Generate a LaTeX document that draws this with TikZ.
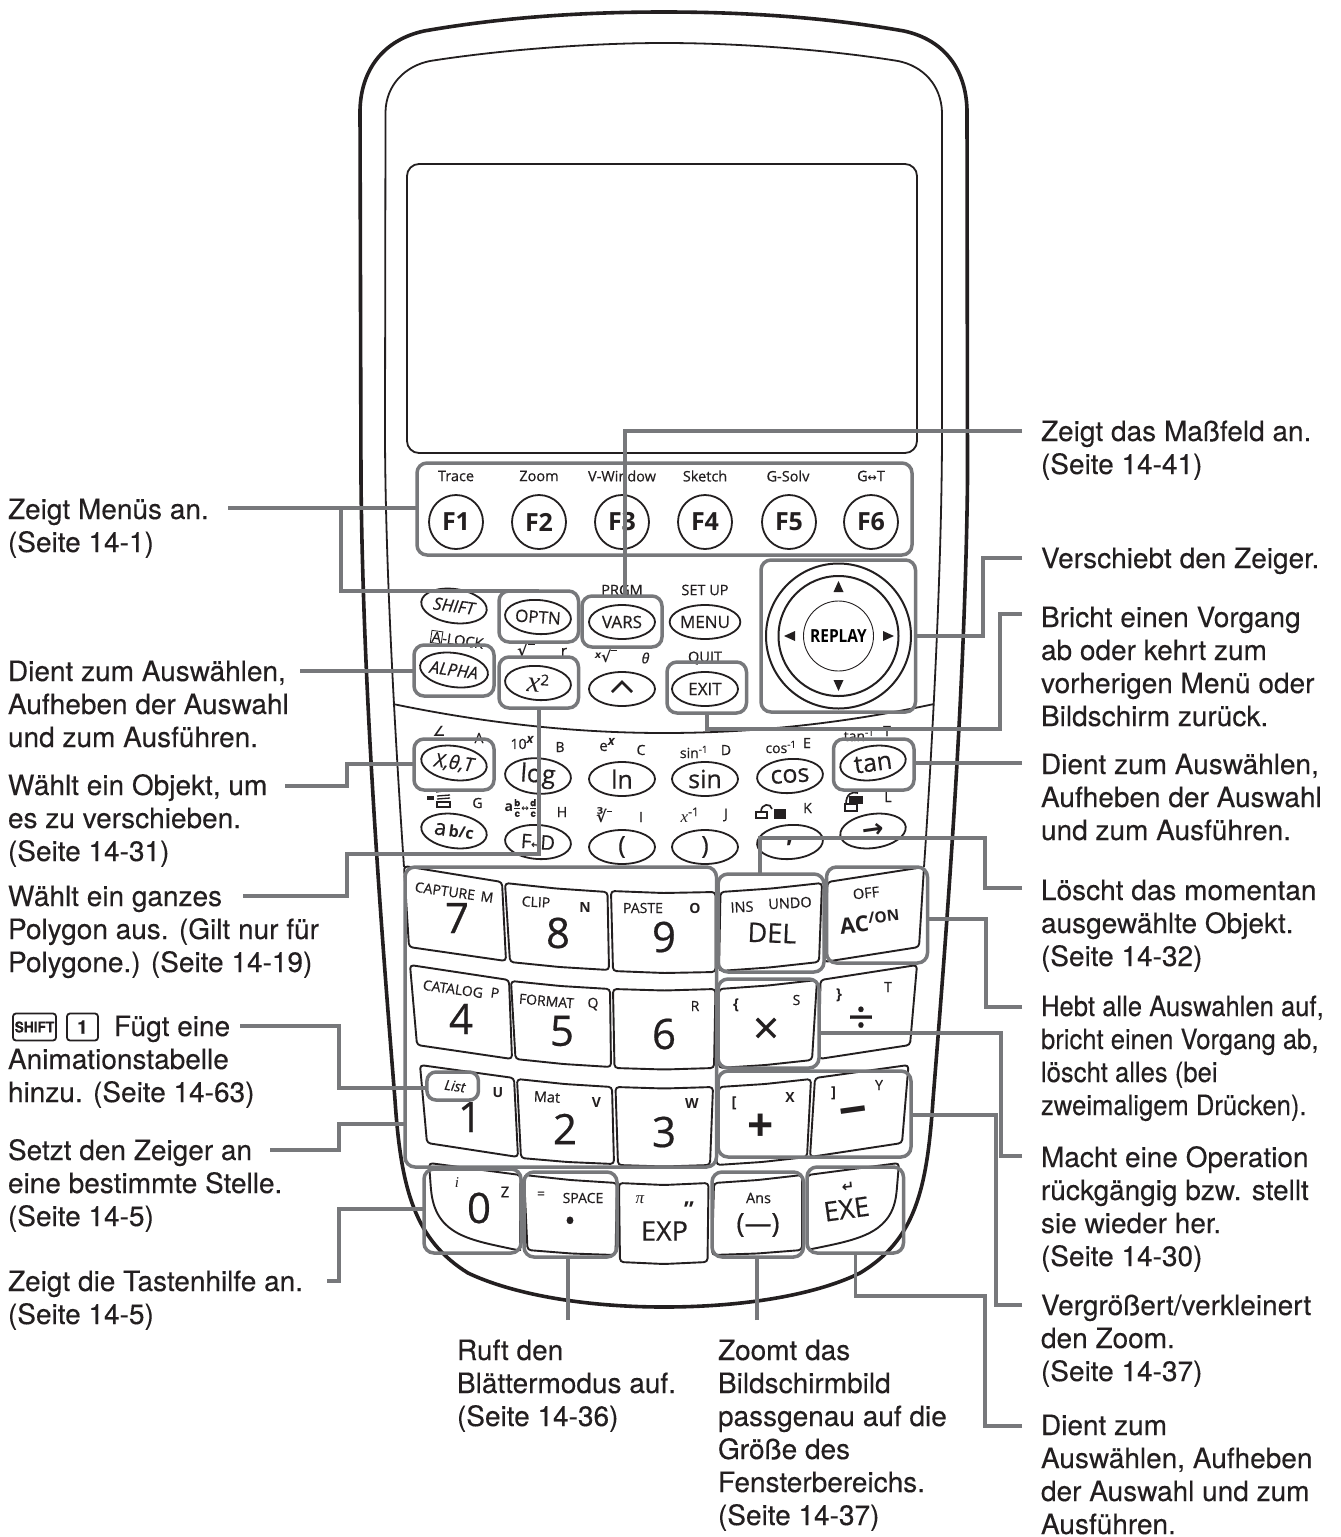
\documentclass[tikz,border=0pt]{standalone}
\usepackage{fontspec}
\usepackage{amsmath}
\usetikzlibrary{shapes.geometric}
\setmainfont[FakeBold=0.2]{TeX Gyre Heros}
\newfontfamily\kf[UprightFeatures={FakeBold=0.5},ItalicFeatures={FakeBold=0.5}]{Open Sans}
\newfontfamily\kfc[FakeStretch=0.86]{Open Sans}
\newfontfamily\djf{DejaVu Sans}
\newfontfamily\serf{Liberation Serif}
\newfontfamily\narrowf[FakeStretch=0.915,FakeBold=0.2]{TeX Gyre Heros}
\definecolor{hlgray}{HTML}{77787B}
\definecolor{ink}{HTML}{231F20}
\newcount\ktc
\tikzset{
  x=1pt,y=-1pt,
  bodyl/.style={draw=ink,line width=3.6pt},
  innerl/.style={draw=ink,line width=1.8pt},
  keyl/.style={draw=ink,line width=1.9pt,rounded corners=3.5pt,line join=round},
  hl/.style={draw=hlgray,line width=3.5pt,rounded corners=10pt,inner sep=0pt,outer sep=0pt},
  conn/.style={draw=hlgray,line width=3.5pt,line cap=butt,line join=miter},
  oval/.style={ellipse,draw=ink,line width=1.8pt,inner sep=0pt,outer sep=0pt,minimum width=66pt,minimum height=34pt,text=ink},
  fcirc/.style={circle,draw=ink,line width=1.8pt,inner sep=0pt,outer sep=0pt,minimum size=54pt,text=ink},
  kt/.style={inner sep=0pt,outer sep=0pt,text=ink},
  lab/.style={inner sep=0pt,outer sep=0pt,anchor=north west,align=left,text=ink,font=\fontsize{28}{33}\selectfont},
  labn/.style={lab,font=\narrowf\fontsize{28}{33}\selectfont},
  capkey/.style={draw=ink,line width=1.8pt,rounded corners=3pt,inner sep=0pt,outer sep=0pt,text=ink},
}
% x y size rotation text
\newcommand\keytxt[5]{\global\advance\ktc by 1
  \node[kt,rotate=#4] (kt\the\ktc) at (#1,#2) {\kf\fontsize{#3}{#3}\selectfont #5};}
% name x y rotation size text
\newcommand\ovalkey[6]{\node[oval,rotate=#4] (#1) at (#2,#3) {\kf\fontsize{#5}{#5}\selectfont #6};}
% name x0 y0 x1 y1
\newcommand\frm[5]{\node[hl,minimum width={#4-#2},minimum height={#5-#3}] (#1) at ({(#2+#4)/2},{(#3+#5)/2}) {};}
% TLx TLy TRx TRy BRx BRy BLx BLy sag
\newcommand\keyq[9]{\draw[keyl] (#1,#2) -- ({(#1+#3)/2},{(#2+#4)/2+#9}) -- (#3,#4) -- (#5,#6) -- ({(#5+#7)/2},{(#6+#8)/2+#9}) -- (#7,#8) -- cycle;}
% name x baseline style text
\newcommand\calloutlab[5]{\node[#4] (#1) at (#2,#3-24) {\rule{0pt}{24pt}#5};}
\begin{document}
\begin{tikzpicture}
\useasboundingbox (0,0) rectangle (1341,1537);
\fill[white] (0,0) rectangle (1341,1537);

% ---- body ----
\draw[bodyl] (664,12) .. controls (750,12) and (830,18) .. (904,31)
  .. controls (945,40) and (966,70) .. (967,110) -- (967.5,480)
  .. controls (965,700) and (945,950) .. (933,1100)
  .. controls (927,1190) and (915,1240) .. (860,1273)
  .. controls (820,1293) and (750,1307) .. (664,1307)
  .. controls (580,1307) and (510,1293) .. (468,1273)
  .. controls (415,1240) and (401,1190) .. (395,1100)
  .. controls (383,950) and (363,700) .. (361,480) -- (360,110)
  .. controls (361,70) and (383,40) .. (424,31)
  .. controls (498,18) and (578,12) .. (664,12) -- cycle;
\draw[innerl] (404,867) .. controls (395,735) and (385,560) .. (385,430) -- (385.5,112)
  .. controls (386,85) and (405,66) .. (430,61)
  .. controls (500,50) and (590,43) .. (664,43)
  .. controls (740,43) and (830,50) .. (898,61)
  .. controls (923,66) and (941,85) .. (942,112) -- (942,430)
  .. controls (942,560) and (933,735) .. (924,867);
\draw[innerl,rounded corners=12pt] (407,164) rectangle (917,453);
\draw[innerl] (393,704) .. controls (480,722) and (570,733) .. (664,733)
  .. controls (760,733) and (850,722) .. (934,704);

% ---- big keys ----
\keyq{404}{866}{502}{882}{506}{961}{409}{947}{0}
\keyq{505}{883}{607.5}{892}{609}{970}{510}{962}{1}
\keyq{611}{891}{715.5}{892}{715.5}{972}{613}{971}{1.5}
\keyq{720.5}{892}{822}{883}{819}{962}{719}{971}{1}
\keyq{827.5}{882}{924}{867}{919}{947}{824}{962}{0}
\keyq{410}{965}{509}{980}{512}{1059}{417}{1045}{0}
\keyq{511}{981}{610}{989}{611}{1067}{515.5}{1059}{1}
\keyq{613}{989}{715.5}{989}{714}{1068}{614.5}{1068}{1.5}
\keyq{719}{989}{817}{980}{812}{1060}{719}{1068}{1}
\keyq{820.5}{980}{917}{965}{910}{1045}{819}{1059}{0}
\keyq{420}{1065}{514}{1078}{518}{1157}{427}{1143}{0}
\keyq{517}{1079}{612}{1087}{614}{1164}{521}{1158}{1}
\keyq{615.5}{1087}{713}{1087}{710}{1165}{618}{1165}{1.5}
\keyq{719}{1087}{811}{1079}{807}{1157}{716.5}{1165}{1}
\keyq{815}{1078}{908.5}{1065}{902}{1143}{810}{1157}{0}
% bottom row
\draw[keyl] (429,1163) -- (520.5,1175) -- (520,1250) -- (517,1250)
  .. controls (470,1240) and (437,1235) .. (431,1190) -- cycle;
\keyq{524}{1175}{617}{1183}{615.5}{1255}{527.5}{1250}{1}
\draw[keyl] (619,1183) -- (664,1185) -- (708.5,1183) -- (707.5,1262) -- (664,1264) -- (620,1262) -- cycle;
\keyq{714}{1183}{802}{1175}{802}{1250}{712}{1255}{1}
\draw[keyl] (807.5,1175) -- (899,1163) -- (896.5,1193)
  .. controls (890,1235) and (855,1240) .. (807,1250) -- cycle;

% ---- function keys ----
\foreach \nm/\xx/\tx in {cFa/456/Trace,cFb/539/Zoom,cFc/622/V-Window,cFd/705/Sketch,cFe/788/G-Solv}{
  \node[kt] (t\nm) at (\xx,476) {\kf\fontsize{14.5}{14.5}\selectfont \tx};
}
\node[kt] (tcFf) at (871,476) {\kf\fontsize{14.5}{14.5}\selectfont G{\djf\bfseries\fontsize{11}{11}\selectfont↔}T};
\foreach \nm/\xx/\tx in {cFa/456/F1,cFb/539/F2,cFc/622/F3,cFd/705/F4,cFe/789/F5,cFf/871/F6}{
  \node[fcirc] (\nm) at (\xx,522) {\kf\bfseries\fontsize{25}{25}\selectfont \tx};
}

% ---- oval keys ----
\ovalkey{oShift}{454}{606}{-8}{17}{\itshape SHIFT}
\ovalkey{oOptn}{538}{617}{-4}{17}{OPTN}
\ovalkey{oVars}{622}{622}{0}{17}{VARS}
\ovalkey{oMenu}{705}{622}{0}{17}{MENU}
\ovalkey{oAlpha}{454}{670}{-8}{17}{\itshape ALPHA}
\ovalkey{oSq}{538}{683}{-4}{30}{\serf\itshape x\upshape\kf\raisebox{7pt}{\fontsize{15}{15}\selectfont 2}}
\ovalkey{oPow}{622}{689}{0}{24}{}
\ovalkey{oExit}{705}{689}{0}{17}{EXIT}
\ovalkey{oXt}{454}{763}{-8}{19}{\itshape X,θ,T}
\ovalkey{oLog}{538}{776}{-4}{25}{log}
\ovalkey{oLn}{622}{779}{0}{25}{ln}
\ovalkey{oSin}{705}{779}{0}{25}{sin}
\ovalkey{oCos}{790}{776}{4}{25}{cos}
\ovalkey{oTan}{873}{763}{8}{25}{tan}
\ovalkey{oAbc}{454}{831}{-8}{22}{a\fontsize{16}{16}\selectfont\bfseries\,b/c}
\ovalkey{oFd}{538}{842}{-4}{20}{F{\djf\bfseries\fontsize{11}{11}\selectfont↔}D}
\ovalkey{oLp}{622}{847}{0}{25}{(}
\ovalkey{oRp}{705}{847}{0}{25}{)}
\ovalkey{oCm}{790}{842}{4}{26}{\bfseries ,}
\ovalkey{oAr}{873}{831}{8}{26}{\djf\bfseries →}
\draw[ink,line width=2.6pt] (612,692) -- (622,682) -- (632,692);

% ---- direction pad ----
\node[circle,draw=ink,line width=2pt,minimum size=145pt,inner sep=0pt,outer sep=0pt] (padO) at (838.5,636) {};
\node[circle,draw=ink,line width=2pt,minimum size=120pt,inner sep=0pt,outer sep=0pt] (padM) at (838.5,636) {};
\node[circle,draw=ink,line width=.9pt,minimum size=70pt,inner sep=0pt,outer sep=0pt] (padI) at (838.5,636)
  {\kfc\bfseries\fontsize{18}{18}\selectfont REPLAY};
\fill[ink] (838.5,581) -- (843.5,592) -- (833.5,592) -- cycle;
\fill[ink] (838.5,691) -- (843.5,680) -- (833.5,680) -- cycle;
\fill[ink] (784,636) -- (795,631) -- (795,641) -- cycle;
\fill[ink] (894,636) -- (883,631) -- (883,641) -- cycle;

% ---- small labels above ovals ----
\keytxt{622}{590}{14.5}{0}{PRGM}
\keytxt{705}{590}{14.5}{0}{SET UP}
\keytxt{457}{640}{14.5}{-8}{{\fboxsep=.5pt\fboxrule=.8pt\fbox{A}}-LOCK}
\keytxt{526}{650}{16}{0}{\djf\bfseries √\rule[12pt]{7pt}{1.6pt}}
\keytxt{564}{652}{15}{0}{r}
\keytxt{606}{656}{15}{0}{\djf\bfseries{\raisebox{4pt}{\fontsize{10}{10}\selectfont\itshape x}}√\rule[11pt]{6pt}{1.6pt}}
\keytxt{645.5}{658}{14}{0}{\itshape θ}
\keytxt{705}{658}{14.5}{0}{QUIT}
\keytxt{439}{731}{14}{0}{\djf\bfseries ∠}
\keytxt{479}{738}{14}{0}{A}
\keytxt{522}{743}{14}{0}{10{\raisebox{5pt}{\fontsize{13}{13}\selectfont\itshape\bfseries x}}}
\keytxt{560}{747}{14}{0}{B}
\keytxt{607}{745}{15}{0}{e{\raisebox{5pt}{\fontsize{13}{13}\selectfont\itshape\bfseries x}}}
\keytxt{641}{750}{14}{0}{C}
\keytxt{694}{752}{14}{0}{sin\textsuperscript{-1}}
\keytxt{726}{750}{14}{0}{D}
\keytxt{781}{747}{14}{0}{cos\textsuperscript{-1}}
\keytxt{807}{743}{14}{0}{E}
\keytxt{859}{735}{14}{0}{tan\textsuperscript{-1}}
\keytxt{887}{731}{14}{0}{T}
\keytxt{477.5}{803}{14}{0}{G}
\keytxt{521}{808}{14}{0}{\bfseries a$\tfrac{\mathbf b}{\mathbf c}${\djf\bfseries\fontsize{9}{9}\selectfont↔}$\tfrac{\mathbf d}{\mathbf c}$}
\keytxt{562}{812}{14}{0}{H}
\keytxt{604}{815}{16}{0}{\djf\bfseries ∛\rule[10pt]{5pt}{1.4pt}}
\keytxt{641}{817}{14}{0}{I}
\keytxt{690}{815}{17}{0}{\serf\itshape x\upshape\kf\textsuperscript{-1}}
\keytxt{726}{815}{14}{0}{J}
\keytxt{807.5}{808}{14}{0}{K}
\keytxt{888}{797}{14}{0}{L}
% small icons
\fill[ink] (427,796) rectangle (434,800);
\draw[ink,line width=1.3pt] (436,792) -- (451,790) (437,796) -- (450,795) (437,799) -- (450,798);
\draw[ink,line width=1.3pt] (437,802) rectangle (450,807);
\draw[ink,line width=1.7pt] (756,812) rectangle (767,818);
\fill[ink] (774,809) rectangle (786,819);
\draw[ink,line width=1.7pt] (761,812) .. controls (761,803) and (771,803) .. (772,809);
\draw[ink,line width=1.7pt] (845,804) rectangle (857,811);
\fill[ink] (849,796) rectangle (863,804);
\draw[ink,line width=1.7pt] (846,804) .. controls (846,794) and (852,791) .. (858,793);

% ---- number key labels ----
\keytxt{445}{891}{14}{-8}{CAPTURE}
\keytxt{487}{897}{14}{-8}{M}
\keytxt{457}{918}{42}{0}{7}
\keytxt{536}{902}{14}{-3}{CLIP}
\keytxt{585}{907}{14}{0}{\bfseries N}
\keytxt{558}{933}{42}{0}{8}
\keytxt{643}{908}{14}{0}{PASTE}
\keytxt{695}{908}{14}{0}{\bfseries O}
\keytxt{664}{937}{42}{0}{9}
\keytxt{742}{907}{14.5}{3}{INS}
\keytxt{790}{903}{14.5}{3}{UNDO}
\keytxt{772}{933}{27}{-2}{DEL}
\keytxt{866}{893}{14.5}{6}{OFF}
\keytxt{870}{922}{22}{6}{\bfseries AC\textsuperscript{/ON}}
\keytxt{453}{989}{14}{-8}{CATALOG}
\keytxt{495}{993}{14}{-8}{P}
\keytxt{461}{1019}{42}{0}{4}
\keytxt{546.5}{1001}{14}{-5}{FORMAT}
\keytxt{593}{1004}{14}{0}{Q}
\keytxt{562}{1031}{42}{0}{5}
\keytxt{695}{1006}{14}{0}{R}
\keytxt{664}{1034}{42}{0}{6}
\keytxt{736}{1005}{15}{0}{\bfseries\{}
\keytxt{796.5}{1000}{14}{0}{S}
\keytxt{766}{1031}{46}{0}{×}
\keytxt{839}{995}{15}{0}{\bfseries\}}
\keytxt{888}{987}{14}{0}{T}
\keytxt{861}{1020}{46}{0}{÷}
\keytxt{455}{1086}{14}{-8}{\itshape List}
\keytxt{498}{1093}{14}{0}{\bfseries U}
\keytxt{470}{1117}{42}{0}{1}
\keytxt{547}{1097}{14.5}{-3}{Mat}
\keytxt{596.5}{1102}{14}{0}{\bfseries V}
\keytxt{565}{1129}{42}{0}{2}
\keytxt{692}{1103}{14}{0}{\bfseries W}
\keytxt{664}{1132}{42}{0}{3}
\keytxt{734}{1103}{15}{0}{\bfseries[}
\keytxt{790}{1097}{14}{0}{\bfseries X}
\keytxt{761}{1128}{46}{0}{\bfseries +}
\keytxt{833.5}{1093}{15}{0}{\bfseries]}
\keytxt{879}{1085}{14}{0}{Y}
\keytxt{854.5}{1117}{50}{8}{\bfseries −}
\keytxt{457}{1183}{15}{0}{\serf\itshape i}
\keytxt{479}{1208}{42}{0}{0}
\keytxt{505}{1192}{15}{0}{Z}
\keytxt{541}{1195}{14}{0}{=}
\keytxt{583}{1198}{14}{0}{SPACE}
\keytxt{570}{1224}{30}{0}{•}
\keytxt{640}{1200}{17}{0}{\serf\itshape π}
\keytxt{689}{1210}{22}{0}{\bfseries ”}
\keytxt{664.5}{1231}{27}{0}{EXP}
\keytxt{758.5}{1198}{14.5}{0}{Ans}
\keytxt{758}{1225}{27}{0}{(—)}
\keytxt{848}{1187}{15}{6}{\djf\bfseries ↵}
\keytxt{846.5}{1209}{27}{8}{EXE}

% ---- callout labels ----
\calloutlab{lMenu}{8}{519}{lab}{Zeigt Menüs an.\\(Seite 14-1)}
\calloutlab{lAlpha}{8}{681}{lab}{Dient zum Auswählen,\\Aufheben der Auswahl\\und zum Ausführen.}
\calloutlab{lObj}{8}{795}{lab}{Wählt ein Objekt, um\\es zu verschieben.\\(Seite 14-31)}
\calloutlab{lPoly}{8}{906}{lab}{Wählt ein ganzes\\Polygon aus. (Gilt nur für\\Polygone.) (Seite 14-19)}
\node[capkey,minimum width=43pt,minimum height=27pt] (capS) at (34.5,1027) {\narrowf\bfseries\fontsize{15}{15}\selectfont SHIFT};
\node[capkey,minimum width=31pt,minimum height=27pt] (capO) at (82.5,1027) {\bfseries\fontsize{19}{19}\selectfont 1};
\calloutlab{lAnimA}{114}{1036}{lab}{Fügt eine}
\calloutlab{lAnimB}{8}{1069}{lab}{Animationstabelle\\hinzu. (Seite 14-63)}
\calloutlab{lSet}{8}{1160}{lab}{Setzt den Zeiger an\\eine bestimmte Stelle.\\(Seite 14-5)}
\calloutlab{lHelp}{8}{1291}{lab}{Zeigt die Tastenhilfe an.\\(Seite 14-5)}
\calloutlab{lPage}{457}{1360}{lab}{Ruft den\\Blättermodus auf.\\(Seite 14-36)}
\calloutlab{lFit}{718}{1360}{lab}{Zoomt das\\Bildschirmbild\\passgenau auf die\\Größe des\\Fensterbereichs.\\(Seite 14-37)}
\calloutlab{lMeas}{1041}{441}{lab}{Zeigt das Maßfeld an.\\(Seite 14-41)}
\calloutlab{lMove}{1041}{568}{lab}{Verschiebt den Zeiger.}
\calloutlab{lEsc}{1041}{627}{lab}{Bricht einen Vorgang\\ab oder kehrt zum\\vorherigen Menü oder\\Bildschirm zurück.}
\calloutlab{lTan}{1041}{774}{lab}{Dient zum Auswählen,\\Aufheben der Auswahl\\und zum Ausführen.}
\calloutlab{lDel}{1041}{900}{lab}{Löscht das momentan\\ausgewählte Objekt.\\(Seite 14-32)}
\calloutlab{lAc}{1041}{1016}{labn}{Hebt alle Auswahlen auf,\\bricht einen Vorgang ab,\\löscht alles (bei\\zweimaligem Drücken).}
\calloutlab{lUndo}{1041}{1167}{lab}{Macht eine Operation\\rückgängig bzw. stellt\\sie wieder her.\\(Seite 14-30)}
\calloutlab{lZoom}{1041}{1315}{lab}{Vergrößert/verkleinert\\den Zoom.\\(Seite 14-37)}
\calloutlab{lExe}{1041}{1435}{lab}{Dient zum\\Auswählen, Aufheben\\der Auswahl und zum\\Ausführen.}

% ---- highlight frames ----
\frm{fF}{417}{463}{912}{555}
\frm{fPad}{761}{560}{915.5}{712}
\frm{fOptn}{499}{591}{578.5}{642}
\frm{fVars}{582}{596}{662}{647}
\frm{fAlpha}{414}{645}{494}{696}
\frm{fSq}{499}{657}{578.5}{708}
\frm{fExit}{667}{662}{746.5}{713}
\frm{fXt}{414}{739}{494}{790}
\frm{fTan}{833.5}{739}{914}{790}
\frm{fBlock}{405}{867}{716.5}{1167}
\frm{fDel}{718}{874}{824}{972}
\frm{fAc}{826.5}{867}{927.5}{963}
\frm{fMul}{718}{979}{819}{1068}
\frm{fPm}{718}{1071}{911}{1157}
\node[hl,rounded corners=9pt,minimum width=51.5pt,minimum height=28pt] (fList) at (452.7,1086) {};
\frm{fZero}{424}{1169}{521}{1253}
\frm{fDot}{524}{1172}{617}{1257}
\frm{fNeg}{712}{1172}{803.5}{1257}
\frm{fExe}{807}{1167}{903.5}{1253}

% ---- connectors ----
\coordinate (a1) at (228,508); \coordinate (a2) at (341,508);
\draw[conn] (a1) -- (a1 -| fF.west);
\draw[conn] (a2) |- (fOptn.north);
\coordinate (b1) at (300,671);
\draw[conn] (b1) -- (b1 -| fAlpha.west);
\coordinate (c1) at (285,786); \coordinate (c2) at (347,764);
\draw[conn] (c1) -| (c2) -- (c2 -| fXt.west);
\coordinate (d1) at (243,896); \coordinate (d2) at (347,854);
\draw[conn] (fSq.south) |- (d2) |- (d1);
\coordinate (e1) at (240,1026); \coordinate (e2) at (339,1088);
\draw[conn] (e1) -| (e2) -- (e2 -| fList.west);
\coordinate (g1) at (270,1150); \coordinate (g2) at (339,1124);
\draw[conn] (g1) -| (g2) -- (g2 -| fBlock.west);
\coordinate (h1) at (327,1281); \coordinate (h2) at (339,1209);
\draw[conn] (h1) -| (h2) -- (h2 -| fZero.west);
\coordinate (i1) at (568,1320);
\draw[conn] (i1) -- (i1 |- fDot.south);
\coordinate (j1) at (757,1320);
\draw[conn] (j1) -- (j1 |- fNeg.south);
\coordinate (m1) at (1022,1426); \coordinate (m2) at (985,1296);
\draw[conn] (m1) -| (m2) -| (fExe.south);
\coordinate (n1) at (1022,431);
\draw[conn] (n1) -| ([xshift=3pt]fVars.north);
\coordinate (o1) at (1022,558); \coordinate (o2) at (983,636);
\draw[conn] (o1) -| (o2) -- (o2 -| fPad.east);
\coordinate (p1) at (1022,614); \coordinate (p2) at (1000,729);
\draw[conn] (p1) -| (p2) -| (fExit.south);
\coordinate (q1) at (1022,763);
\draw[conn] (q1) -- (q1 -| fTan.east);
\coordinate (r1) at (1022,888); \coordinate (r2) at (985,838);
\draw[conn] (r1) -| (r2) -| ([xshift=-11pt]fDel.north);
\coordinate (s1) at (1022,1007); \coordinate (s2) at (986,919);
\draw[conn] (s1) -| (s2) -- (s2 -| fAc.east);
\coordinate (t1) at (1022,1156); \coordinate (t2) at (1001,1033);
\draw[conn] (t1) -| (t2) -- (t2 -| fMul.east);
\coordinate (u1) at (1022,1305); \coordinate (u2) at (996,1115);
\draw[conn] (u1) -| (u2) -- (u2 -| fPm.east);
\end{tikzpicture}
\end{document}
